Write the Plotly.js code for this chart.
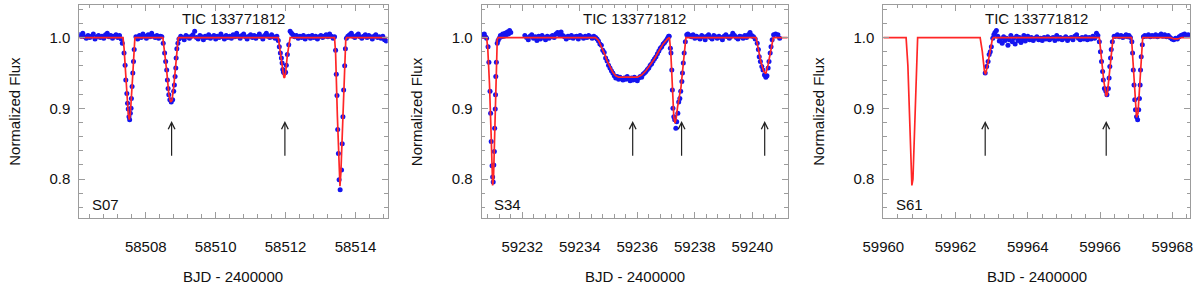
<!DOCTYPE html>
<html>
<head>
<meta charset="utf-8">
<script src="https://cdn.plot.ly/plotly-3.0.1.min.js"></script>
<style>html,body{margin:0;padding:0;background:#fff;}#chart{width:1200px;height:287px;}</style>
</head>
<body>
<div id="chart"></div>
<script>
// ---------------- DATA ----------------
const targetName = "TIC 133771812";
const sectorLabels = ["S07", "S34", "S61"];
const xTitle = "BJD - 2400000";
const yTitle = "Normalized Flux";
const yTickVals = [0.8, 0.9, 1.0];

// Sector 07 observations
const s07Time = [
58506.10,58506.15,58506.20,58506.25,58506.30,58506.35,58506.40,58506.45,58506.50,58506.55,58506.60,58506.65,58506.70,58506.75,58506.80,58506.85,58506.90,58506.95,58507.00,58507.05,58507.10,58507.15,58507.20,58507.25,58507.30,
58507.33,58507.38,58507.41,58507.43,58507.46,58507.48,58507.50,58507.52,58507.54,58507.56,58507.58,58507.59,58507.61,58507.63,58507.65,58507.67,
58507.72,58507.77,58507.82,58507.87,58507.92,58507.97,58508.02,58508.07,58508.12,58508.17,58508.22,58508.27,58508.32,58508.37,58508.42,58508.46,
58508.50,58508.54,58508.57,58508.60,58508.62,58508.64,58508.66,58508.69,58508.73,58508.77,58508.80,58508.82,58508.84,58508.86,58508.87,58508.89,58508.92,
58508.95,58509.00,58509.05,58509.10,58509.15,58509.20,58509.25,58509.30,58509.35,58509.40,58509.45,58509.50,58509.55,58509.60,58509.65,58509.70,58509.75,58509.80,58509.85,58509.90,58509.95,58510.00,58510.05,58510.10,58510.15,58510.20,58510.25,58510.30,58510.35,58510.40,58510.45,58510.50,58510.55,58510.60,58510.65,58510.70,58510.75,58510.80,58510.85,58510.90,58510.95,58511.00,58511.05,58511.10,58511.15,58511.20,58511.25,58511.30,58511.35,58511.40,58511.45,58511.50,58511.55,58511.60,58511.65,58511.70,58511.75,58511.79,
58511.82,58511.85,58511.88,58511.90,58511.92,58511.94,58511.97,58512.00,58512.02,58512.05,58512.09,
58512.13,58512.17,58512.21,58512.26,58512.31,58512.36,58512.41,58512.46,58512.51,58512.56,58512.61,58512.66,58512.71,58512.76,58512.81,58512.86,58512.91,58512.96,58513.01,58513.06,58513.11,58513.16,58513.21,58513.26,58513.31,58513.36,58513.40,
58513.43,58513.45,58513.47,58513.49,58513.51,58513.53,58513.56,58513.60,58513.62,58513.64,58513.66,58513.69,58513.71,
58513.74,58513.78,58513.83,58513.88,58513.93,58513.98,58514.03,58514.08,58514.13,58514.18,58514.23,58514.28,58514.33,58514.38,58514.43,58514.48,58514.53,58514.58,58514.63,58514.68,58514.73,58514.78,58514.83,58514.88
];
const s07Flux = [
1.004,1.002,1.006,1.001,0.999,1.003,1.000,1.002,1.005,0.998,1.001,1.003,1.000,1.002,0.999,1.004,1.006,1.001,1.003,0.999,1.002,1.004,1.000,1.003,0.998,
0.992,0.978,0.961,0.940,0.921,0.907,0.899,0.888,0.884,0.893,0.900,0.914,0.931,0.950,0.966,0.983,
1.001,0.998,1.003,1.000,1.005,1.002,0.999,1.004,1.001,1.006,1.002,1.000,1.003,0.999,1.002,1.001,
0.992,0.978,0.966,0.954,0.940,0.928,0.919,0.912,0.909,0.912,0.924,0.933,0.945,0.957,0.971,0.984,0.992,
0.998,1.002,1.000,0.997,1.003,1.001,0.999,1.002,1.004,1.009,1.000,0.998,1.003,1.001,0.997,1.002,1.000,1.004,0.999,1.001,1.003,0.998,1.002,1.000,1.005,1.001,0.998,1.003,1.000,1.002,0.999,1.004,1.001,1.006,1.002,0.999,1.003,1.005,1.001,0.998,1.002,1.004,1.000,1.003,0.999,1.002,1.005,1.001,0.998,1.003,1.006,1.002,1.000,1.004,1.001,0.999,1.002,0.996,
0.987,0.978,0.971,0.964,0.955,0.951,0.950,0.951,0.961,0.976,0.990,
1.009,1.006,1.004,1.001,1.003,0.999,1.002,1.000,1.003,0.998,1.001,1.002,0.999,1.003,1.000,1.002,0.998,1.001,1.003,1.000,1.002,1.004,1.001,1.005,1.002,0.999,1.001,
0.982,0.948,0.918,0.870,0.836,0.799,0.785,0.813,0.850,0.888,0.926,0.960,0.984,
0.999,1.002,1.004,1.006,1.002,1.000,1.003,1.005,1.001,0.999,1.002,1.004,1.000,1.003,1.001,0.998,1.002,1.004,1.000,1.001,0.999,1.002,0.997,0.995
];
// Sector 07 model
const s07ModelTime = [58506.10,58507.35,58507.38,58507.44,58507.50,58507.53,58507.56,58507.62,58507.67,58507.69,58508.49,58508.53,58508.60,58508.66,58508.71,58508.75,58508.80,58508.86,58508.91,58508.93,58511.79,58511.83,58511.90,58511.95,58511.97,58512.00,58512.05,58512.11,58512.13,58513.40,58513.43,58513.48,58513.53,58513.555,58513.58,58513.63,58513.68,58513.72,58513.74,58514.92];
const s07ModelFlux = [1.000,1.000,0.985,0.930,0.892,0.884,0.892,0.940,0.990,1.000,1.000,0.985,0.953,0.920,0.909,0.911,0.930,0.962,0.995,1.000,1.000,0.985,0.960,0.944,0.943,0.950,0.975,0.997,1.000,1.000,0.978,0.890,0.810,0.790,0.808,0.880,0.960,0.996,1.000,1.000];

// Sector 34 observations
const s34Time = [
59230.60,59230.64,59230.68,59230.72,59230.76,
59230.81,59230.84,59230.88,59230.90,59230.92,59230.95,59230.97,59230.99,59231.01,59231.03,59231.04,59231.06,59231.07,59231.08,59231.10,59231.13,
59231.16,59231.20,59231.24,59231.28,59231.32,59231.36,59231.40,59231.44,59231.48,59231.52,59231.56,59231.60,
59232.09,59232.15,59232.21,59232.27,59232.33,59232.39,59232.45,59232.51,59232.57,59232.63,59232.69,59232.75,59232.81,59232.87,59232.93,59232.99,59233.05,59233.11,59233.17,59233.23,59233.29,59233.35,59233.41,59233.47,59233.53,59233.59,59233.65,59233.71,59233.77,59233.83,59233.89,59233.95,59234.01,59234.07,59234.13,59234.19,59234.25,59234.31,59234.37,59234.43,59234.49,59234.55,
59234.60,59234.65,59234.70,59234.75,59234.80,59234.85,59234.90,59234.95,59235.00,59235.05,59235.10,59235.15,59235.20,59235.25,59235.30,59235.35,59235.40,59235.45,59235.50,59235.55,59235.60,59235.65,59235.70,59235.75,59235.80,59235.85,59235.90,59235.95,59236.00,59236.05,59236.10,59236.15,59236.20,59236.25,59236.30,59236.35,59236.40,59236.45,59236.50,59236.55,59236.60,59236.65,59236.70,59236.75,59236.80,59236.85,59236.90,59236.95,59237.00,59237.05,59237.09,
59237.11,59237.15,59237.17,59237.20,59237.22,59237.24,59237.27,59237.30,59237.34,59237.37,59237.41,59237.44,59237.48,59237.51,59237.55,59237.57,59237.60,59237.63,59237.67,59237.72,
59237.76,59237.82,59237.88,59237.94,59238.00,59238.06,59238.12,59238.18,59238.24,59238.30,59238.36,59238.42,59238.48,59238.54,59238.60,59238.66,59238.72,59238.78,59238.84,59238.90,59238.96,59239.02,59239.08,59239.14,59239.20,59239.26,59239.32,59239.38,59239.44,59239.50,59239.56,59239.62,59239.68,59239.74,59239.80,59239.86,59239.92,59239.98,59240.04,59240.10,
59240.17,59240.21,59240.24,59240.28,59240.33,59240.37,59240.42,59240.47,59240.51,59240.55,59240.58,59240.62,59240.65,59240.69,59240.74,59240.81,59240.89,59240.95
];
const s34Flux = [
1.004,1.002,1.005,1.001,0.999,
0.987,0.965,0.924,0.893,0.853,0.819,0.803,0.796,0.820,0.839,0.872,0.899,0.919,0.945,0.965,0.992,
0.996,0.999,1.003,1.001,1.005,1.002,1.006,1.004,1.008,1.005,1.010,1.007,
1.003,1.000,0.997,1.002,1.004,0.999,1.001,0.996,1.002,0.998,1.003,1.000,0.997,1.002,0.999,1.001,1.003,1.000,1.005,1.007,1.004,1.008,1.003,1.001,0.998,1.002,1.000,1.003,0.999,1.001,1.002,0.998,1.003,1.001,0.999,1.002,1.000,1.003,1.001,0.999,1.002,1.000,
0.998,0.995,0.991,0.989,0.982,0.979,0.971,0.967,0.961,0.957,0.953,0.950,0.946,0.943,0.945,0.941,0.944,0.942,0.940,0.943,0.941,0.945,0.942,0.939,0.943,0.940,0.944,0.941,0.939,0.943,0.945,0.944,0.948,0.950,0.952,0.955,0.957,0.961,0.963,0.967,0.970,0.973,0.977,0.981,0.985,0.987,0.991,0.993,0.996,0.999,1.002,
1.002,0.985,0.978,0.954,0.926,0.900,0.888,0.884,0.872,0.881,0.893,0.909,0.914,0.924,0.938,0.950,0.964,0.978,0.994,1.004,
1.005,1.003,1.001,1.004,0.999,1.002,1.000,0.998,1.003,1.001,0.997,1.002,1.004,1.000,0.998,1.003,1.001,0.999,1.002,1.000,0.997,1.002,1.004,1.001,0.999,1.002,1.006,1.003,1.000,0.998,1.002,1.001,0.999,1.003,1.000,1.004,1.007,1.003,1.001,0.998,
0.992,0.983,0.973,0.966,0.959,0.954,0.947,0.944,0.946,0.957,0.966,0.978,0.987,0.997,1.004,1.005,1.004,0.999
];
// Sector 34 model
const s34ModelTime = [59230.59,59230.76,59230.80,59230.86,59230.92,59230.97,59231.00,59231.05,59231.10,59231.13,59231.16,59234.55,59234.65,59234.75,59234.85,59234.95,59235.05,59235.15,59235.25,59235.35,59236.00,59236.15,59236.30,59236.45,59236.60,59236.75,59236.90,59237.05,59237.12,59237.17,59237.22,59237.27,59237.31,59237.35,59237.40,59237.46,59237.52,59237.58,59237.64,59237.69,59240.13,59240.20,59240.30,59240.40,59240.47,59240.55,59240.65,59240.73,59241.23];
const s34ModelFlux = [1.000,1.000,0.985,0.935,0.860,0.791,0.800,0.880,0.960,0.997,1.000,1.000,0.996,0.988,0.978,0.967,0.958,0.951,0.946,0.944,0.944,0.947,0.953,0.961,0.970,0.981,0.991,0.998,1.000,0.975,0.920,0.888,0.879,0.885,0.902,0.915,0.930,0.955,0.985,1.000,1.000,0.985,0.965,0.952,0.949,0.962,0.985,1.000,1.000];

// Sector 61 observations
const s61Time = [
59962.82,59962.86,59962.90,59962.93,59962.96,59962.99,59963.03,59963.06,59963.09,
59963.13,59963.17,59963.21,59963.25,59963.29,59963.33,59963.37,59963.41,59963.45,59963.49,59963.53,59963.57,59963.61,59963.65,59963.69,59963.73,59963.77,59963.81,59963.85,59963.89,59963.93,59963.97,
59964.00,59964.05,59964.10,59964.15,59964.20,59964.25,59964.30,59964.35,59964.40,59964.45,59964.50,59964.55,59964.60,59964.65,59964.70,59964.75,59964.80,59964.85,59964.90,59964.95,59965.00,59965.05,59965.10,59965.15,59965.20,59965.25,59965.30,59965.35,59965.40,59965.45,59965.50,59965.55,59965.60,59965.65,59965.70,59965.75,59965.80,59965.85,59965.90,59965.94,
59965.98,59966.01,59966.04,59966.07,59966.09,59966.12,59966.16,59966.19,59966.23,59966.25,59966.27,59966.29,59966.31,59966.34,59966.39,
59966.43,59966.48,59966.53,59966.58,59966.63,59966.68,59966.72,59966.76,59966.80,59966.84,
59966.88,59966.90,59966.92,59966.94,59966.96,59966.98,59967.01,59967.04,59967.07,59967.09,59967.11,59967.12,59967.14,59967.17,59967.20,
59967.24,59967.29,59967.34,59967.39,59967.44,59967.49,59967.54,59967.59,59967.64,59967.69,59967.74,59967.79,59967.84,59967.89,59967.94,59967.99,59968.04,59968.09,59968.14,59968.19,59968.24,59968.29,59968.34,59968.39,59968.44
];
const s61Flux = [
0.950,0.959,0.966,0.976,0.980,0.987,0.999,1.004,1.007,
1.010,1.002,0.995,0.998,0.992,1.001,0.996,0.999,0.989,0.997,1.003,0.994,0.999,0.991,1.002,0.996,1.000,0.993,0.998,1.003,0.995,0.999,
1.002,0.997,1.000,0.996,0.999,1.001,0.997,0.999,0.996,1.000,0.998,1.001,0.997,0.999,1.000,0.996,1.003,0.998,1.000,0.997,0.999,1.001,0.996,0.999,1.000,0.997,1.002,1.004,0.999,0.997,1.000,0.998,1.001,0.997,1.000,0.998,1.002,0.999,1.006,1.003,
0.994,0.980,0.966,0.952,0.940,0.928,0.924,0.919,0.928,0.943,0.959,0.971,0.983,0.994,1.002,
1.002,1.004,1.001,1.003,1.000,1.002,1.004,1.001,1.003,1.000,
0.994,0.978,0.954,0.933,0.912,0.898,0.888,0.884,0.898,0.914,0.933,0.954,0.973,0.990,1.001,
1.003,1.002,1.004,1.001,1.003,1.002,1.004,1.001,1.003,1.005,1.002,1.004,1.001,1.003,1.000,0.998,0.997,0.999,0.998,1.001,1.003,1.004,1.005,1.003,1.004
];
// Sector 61 model
const s61ModelTime = [59960.00,59960.63,59960.68,59960.74,59960.79,59960.82,59960.87,59960.92,59960.95,59962.68,59962.74,59962.80,59962.83,59962.88,59962.95,59963.02,59963.05,59965.98,59966.03,59966.10,59966.17,59966.20,59966.26,59966.32,59966.36,59966.87,59966.92,59966.97,59967.01,59967.05,59967.10,59967.15,59967.18,59967.95,59968.05,59968.15,59968.25,59968.49];
const s61ModelFlux = [1.000,1.000,0.960,0.860,0.791,0.800,0.880,0.970,1.000,1.000,0.980,0.952,0.948,0.960,0.980,0.998,1.000,1.000,0.975,0.940,0.917,0.920,0.950,0.985,1.000,1.000,0.960,0.905,0.887,0.893,0.935,0.985,1.000,1.000,0.998,0.998,1.000,1.000];

// Arrow markers (times) and their vertical extent (flux)
const s07Arrows = [58508.74, 58511.98];
const s34Arrows = [59235.84, 59237.54, 59240.43];
const s61Arrows = [59962.82, 59966.17];
const arrowTailFlux = 0.831;
const arrowTipFlux = 0.882;

// Axis ranges
const xRanges = [[58506.10, 58514.92], [59230.59, 59241.23], [59959.999, 59968.49]];
const xTick0 = [58508, 59230, 59960];
const yRange = [0.745, 1.046];

// ---------------- LAYOUT / STYLE ----------------
const FONT = "Liberation Sans, Arial, Helvetica, sans-serif";
const frameColor = "#9c9c9c";
const xDomains = [[0.06608, 0.32308], [0.40142, 0.65642], [0.73608, 0.99167]];
const yDomain = [0.24042, 0.98258];

const panels = [
  {t: s07Time, f: s07Flux, mt: s07ModelTime, mf: s07ModelFlux, arrows: s07Arrows},
  {t: s34Time, f: s34Flux, mt: s34ModelTime, mf: s34ModelFlux, arrows: s34Arrows},
  {t: s61Time, f: s61Flux, mt: s61ModelTime, mf: s61ModelFlux, arrows: s61Arrows}
];

const traces = [];
const layout = {
  width: 1200, height: 287,
  margin: {l: 0, r: 0, t: 0, b: 0},
  paper_bgcolor: "#fff", plot_bgcolor: "#fff",
  showlegend: false,
  font: {family: FONT, size: 15, color: "#111"},
  annotations: []
};

panels.forEach((p, i) => {
  const n = i === 0 ? "" : String(i + 1);
  const xa = "x" + n, ya = "y" + n;
  traces.push({
    type: "scatter", mode: "markers", x: p.t, y: p.f, xaxis: xa, yaxis: ya,
    marker: {size: 5, color: "#1414f0"}, hoverinfo: "skip"
  });
  traces.push({
    type: "scatter", mode: "lines", x: p.mt, y: p.mf, xaxis: xa, yaxis: ya,
    line: {color: "#ff2626", width: 1.7}, hoverinfo: "skip"
  });
  layout["xaxis" + n] = {
    domain: xDomains[i], anchor: ya, range: xRanges[i],
    tick0: xTick0[i], dtick: 2, tickformat: "d",
    ticks: "inside", ticklen: 6, tickwidth: 1, tickcolor: frameColor,
    showline: true, linecolor: frameColor, linewidth: 1, mirror: "allticks",
    showgrid: false, zeroline: false,
    tickfont: {family: FONT, size: 15, color: "#111"},
    ticklabelstandoff: 15,
    minor: {dtick: 0.4, tick0: xTick0[i], ticks: "inside", ticklen: 3.5, tickcolor: frameColor, showgrid: false}
  };
  layout["yaxis" + n] = {
    domain: yDomain, anchor: xa, range: yRange,
    tickmode: "array", tickvals: yTickVals, tickformat: ".1f",
    ticks: "inside", ticklen: 6, tickwidth: 1, tickcolor: frameColor,
    showline: true, linecolor: frameColor, linewidth: 1, mirror: "allticks",
    showgrid: false, zeroline: false,
    tickfont: {family: FONT, size: 15, color: "#111"},
    ticklabelstandoff: 5,
    minor: {dtick: 0.02, tick0: 0.76, ticks: "inside", ticklen: 3.5, tickcolor: frameColor, showgrid: false}
  };
  const x0 = xDomains[i][0], x1 = xDomains[i][1], xc = (x0 + x1) / 2;
  const yc = (yDomain[0] + yDomain[1]) / 2;
  layout.annotations.push({xref: "paper", yref: "paper", x: xc, y: 1 - 18 / 287, text: targetName,
    showarrow: false, xanchor: "center", yanchor: "middle", font: {size: 15, family: FONT, color: "#111"}});
  layout.annotations.push({xref: "paper", yref: "paper", x: x0 + 10.5 / 1200, y: 1 - 204 / 287, text: sectorLabels[i],
    showarrow: false, xanchor: "left", yanchor: "middle", font: {size: 15, family: FONT, color: "#111"}});
  layout.annotations.push({xref: "paper", yref: "paper", x: xc, y: 1 - 276 / 287, text: xTitle,
    showarrow: false, xanchor: "center", yanchor: "middle", font: {size: 15, family: FONT, color: "#111"}});
  layout.annotations.push({xref: "paper", yref: "paper", x: x0 - 65 / 1200, y: yc, text: yTitle, textangle: -90,
    showarrow: false, xanchor: "center", yanchor: "middle", font: {size: 15, family: FONT, color: "#111"}});
  p.arrows.forEach(t => {
    layout.annotations.push({xref: xa, yref: ya, axref: xa, ayref: ya,
      x: t, y: arrowTipFlux, ax: t, ay: arrowTailFlux, text: "",
      showarrow: true, arrowhead: 5, arrowsize: 1.1, arrowwidth: 1.2, arrowcolor: "#222", standoff: 0});
  });
});

Plotly.newPlot("chart", traces, layout, {staticPlot: true, displayModeBar: false});
</script>
</body>
</html>
